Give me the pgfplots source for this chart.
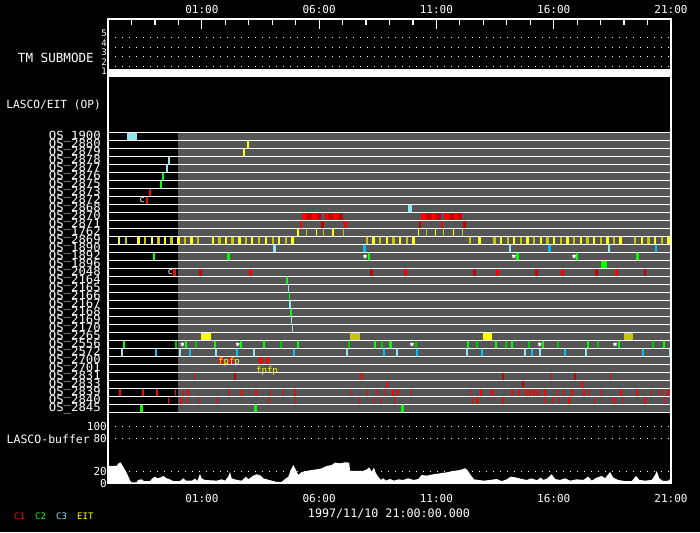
\documentclass[border=0pt]{standalone}
\usepackage{fontspec}
\setmainfont{DejaVu Sans Mono}
\usepackage{graphicx}
\usepackage{pgfplots}
\usepackage{pgfplotstable}
\pgfplotsset{compat=1.18}

\definecolor{bgrey}{RGB}{85,85,85}
\definecolor{cred}{RGB}{255,0,0}
\definecolor{cdred}{RGB}{200,0,0}
\definecolor{cgreen}{RGB}{0,255,0}
\definecolor{cdgreen}{RGB}{0,200,0}
\definecolor{clblue}{RGB}{142,229,238}
\definecolor{ccyan}{RGB}{0,191,255}
\definecolor{cyel}{RGB}{255,255,0}
\definecolor{colive}{RGB}{200,200,0}

\newcommand\fOS{\fontsize{11.2}{11.2}\selectfont}
\newcommand\fTick{\fontsize{11}{11}\selectfont}
\newcommand\fSmall{\fontsize{9}{9}\selectfont}
\newcommand\os[1]{\scalebox{1.1}[1]{OS\_#1}}

\pgfplotsset{
  seg/.style={color=#1, line width=7pt, line cap=butt, mark=none, forget plot},
  tick/.style={color=#1, only marks, mark=|, mark size=3.5pt,
    mark options={line width=1.1pt}, forget plot},
}

% one bar per table row: start hour a, end hour b, row r (hours from 21:00 on 11/09)
\newcommand\drawbars[2]{%
  \pgfplotstablegetrowsof{#1}%
  \pgfmathtruncatemacro\nlast{\pgfplotsretval-1}%
  \pgfplotsforeachungrouped \i in {0,...,\nlast}{%
    \pgfplotstablegetelem{\i}{a}\of{#1}\let\ba\pgfplotsretval
    \pgfplotstablegetelem{\i}{b}\of{#1}\let\bb\pgfplotsretval
    \pgfplotstablegetelem{\i}{r}\of{#1}\let\br\pgfplotsretval
    \edef\next{\noexpand\addplot[seg=#2] coordinates {(\ba,\br) (\bb,\br)};}%
    \next
  }%
}

\pgfplotstableread{
a b r
1.75 1.83 8
1.62 1.71 9
8.26 8.47 11
8.68 8.90 11
9.25 9.39 11
9.60 9.82 11
13.34 13.54 11
13.80 13.98 11
14.32 14.55 11
14.75 14.93 11
8.18 8.27 12
10.06 10.19 12
14.20 14.28 12
2.77 2.89 18
6.02 6.13 18
12.62 12.73 18
16.54 16.66 18
19.32 19.43 18
21.63 21.73 18
4.73 4.90 29
5.16 5.33 29
6.44 6.61 29
6.74 6.86 29
3.66 3.71 31
10.79 10.87 31
18.87 18.92 31
21.38 21.43 31
11.85 11.94 32
20.16 20.25 32
}\tRed

\pgfplotstableread{
a b r
8.47 8.68 11
8.90 9.08 11
9.39 9.60 11
9.82 10.03 11
13.54 13.80 11
13.98 14.18 11
14.55 14.75 11
14.93 15.09 11
9.08 9.20 12
13.26 13.34 12
15.13 15.25 12
3.88 3.99 18
11.17 11.28 18
15.57 15.67 18
18.22 18.32 18
20.76 20.88 18
22.85 22.94 18
5.37 5.46 31
16.80 16.88 31
19.87 19.95 31
17.65 17.73 32
}\tDred

\pgfplotstableread{
t r
0.51 33
1.49 33
2.09 33
2.86 33
3.20 33
3.41 33
5.12 33
5.71 33
6.31 33
6.91 33
7.50 33
7.97 33
10.32 33
11.08 33
11.47 33
11.77 33
12.15 33
12.36 33
12.92 33
15.47 33
15.90 33
16.37 33
17.22 33
17.52 33
17.82 33
17.99 33
18.16 33
18.33 33
18.63 33
19.10 33
19.40 33
19.78 33
20.29 33
20.50 33
21.02 33
21.87 33
22.55 33
23.15 33
23.45 33
23.62 33
23.87 33
2.56 34
3.11 34
3.37 34
3.84 34
4.65 34
6.86 34
8.01 34
10.74 34
11.30 34
11.60 34
12.23 34
15.52 34
15.73 34
16.84 34
18.59 34
18.93 34
19.23 34
19.65 34
20.72 34
21.57 34
21.95 34
22.89 34
23.75 34
}\tThinRed

\pgfplotstableread{
t r
7.63 19
7.73 21
7.80 23
}\tThinGreen

\pgfplotstableread{
t r
7.69 20
7.76 22
7.81 24
7.85 25
}\tThinBlue

\pgfplotstableread{
t r
8.10 13
8.88 13
9.59 13
13.23 13
13.95 13
14.72 13
}\tThinYellow

\pgfplotstableread{
t r
8.45 13
9.18 13
10.03 13
13.56 13
14.29 13
15.10 13
}\tThinOlive

\pgfplotstableread{
a b r
2.30 2.39 6
2.22 2.30 7
1.92 2.00 16
5.07 5.19 16
11.07 11.16 16
17.38 17.52 16
19.95 20.04 16
22.50 22.64 16
21.02 21.27 17
0.64 0.72 27
3.28 3.37 27
4.52 4.60 27
5.63 5.71 27
6.61 6.69 27
8.06 8.15 27
11.34 11.42 27
11.98 12.11 27
15.30 15.39 27
16.50 16.58 27
17.18 17.26 27
18.50 18.59 27
20.42 20.50 27
21.74 21.83 27
23.66 23.74 27
1.36 1.49 35
6.22 6.35 35
12.49 12.62 35
}\tGreen

\pgfplotstableread{
a b r
2.86 2.94 27
3.71 3.79 27
7.33 7.42 27
10.23 10.32 27
11.64 11.72 27
13.09 13.17 27
15.69 15.77 27
16.92 17.01 27
17.90 17.99 27
19.14 19.23 27
20.85 20.93 27
23.19 23.27 27
}\tDgreen

\pgfplotstableread{
a b r
0.81 1.22 1
2.56 2.64 4
2.47 2.56 5
12.79 12.96 10
7.03 7.15 15
17.09 17.18 15
21.31 21.40 15
0.55 0.64 28
3.03 3.11 28
4.56 4.65 28
6.18 6.27 28
10.15 10.23 28
12.28 12.36 28
15.26 15.35 28
17.73 17.82 28
18.37 18.46 28
20.33 20.42 28
23.92 24.00 28
}\tLblue

\pgfplotstableread{
a b r
10.87 10.99 15
18.76 18.87 15
23.32 23.40 15
2.00 2.09 28
3.45 3.54 28
5.46 5.54 28
7.89 7.97 28
11.72 11.81 28
13.13 13.22 28
15.90 15.99 28
18.03 18.12 28
19.44 19.52 28
22.76 22.85 28
}\tCyan

\pgfplotstableread{
a b r
5.91 6.00 2
5.76 5.84 3
0.43 0.51 14
1.24 1.36 14
1.83 1.92 14
2.39 2.47 14
2.94 3.07 14
3.50 3.62 14
4.43 4.52 14
4.99 5.07 14
5.54 5.67 14
6.10 6.19 14
6.69 6.77 14
7.26 7.33 14
7.80 7.92 14
11.25 11.37 14
11.85 11.92 14
12.42 12.49 14
12.96 13.07 14
15.79 15.90 14
16.71 16.78 14
17.28 17.35 14
17.83 17.93 14
18.42 18.49 14
18.98 19.06 14
19.54 19.64 14
20.12 20.19 14
20.69 20.76 14
21.23 21.34 14
21.80 21.90 14
22.72 22.79 14
23.29 23.36 14
23.84 23.95 14
3.96 4.39 26
15.99 16.37 26
}\tYellow

\pgfplotstableread{
a b r
0.72 0.81 14
1.53 1.62 14
2.09 2.22 14
2.64 2.77 14
3.24 3.33 14
3.79 3.88 14
4.69 4.82 14
5.24 5.37 14
5.84 5.93 14
6.41 6.48 14
6.98 7.08 14
7.55 7.62 14
11.00 11.07 14
11.57 11.64 14
12.12 12.22 14
12.70 12.78 14
15.39 15.46 14
16.43 16.53 14
17.00 17.09 14
17.56 17.64 14
18.13 18.20 14
18.68 18.79 14
19.27 19.34 14
19.84 19.91 14
20.38 20.49 14
20.97 21.04 14
21.54 21.61 14
22.42 22.50 14
22.99 23.09 14
23.56 23.65 14
10.32 10.74 26
22.00 22.38 26
}\tOlive

\pgfplotstableread{
t r
3.17 27
5.53 27
12.96 27
18.40 27
21.61 27
10.96 16
17.30 16
19.87 16
}\tStars

\pgfplotstableread{
t v
0.00 30.6
0.37 30.6
0.44 35
0.54 37
0.65 29
0.77 20.6
0.87 11.8
0.94 4.7
1.01 1.8
1.22 1.8
1.29 5.9
1.44 7
1.53 4
1.79 4
1.90 8.8
2.00 11.8
2.10 8.8
2.22 10
2.36 13
2.50 8.8
2.64 7
2.78 4
3.07 4
3.21 8.8
3.32 4.7
3.57 4.7
3.71 8.2
3.81 4
3.92 16.5
3.99 8.8
4.13 5.9
4.63 4.7
4.85 7
4.99 4.7
5.13 11.8
5.20 20
5.27 8.8
5.49 5.9
5.70 4.7
5.88 11.8
5.98 7
6.17 13
6.34 16
6.51 13.5
6.62 8.8
6.77 7
6.98 4.7
7.19 2.4
7.40 2.4
7.55 7.6
7.69 11.8
7.79 23.5
7.90 32.4
8.01 23.5
8.11 14.7
8.26 20
8.47 21.8
8.68 23.5
8.90 24.7
9.11 26.5
9.32 30.6
9.54 32.4
9.68 36.5
9.89 35.3
10.10 37
10.28 36.5
10.32 21.8
10.88 21.8
11.03 24.7
11.14 28
11.24 20.6
11.34 27.6
11.42 17.6
11.52 11.8
11.63 5.9
11.74 8.8
11.85 4.7
12.02 7.6
12.19 4.7
12.38 7
12.59 5.9
12.80 8.8
13.02 5.9
13.23 7.6
13.37 14.7
13.59 13.5
13.87 15.9
14.15 17.6
14.44 19.4
14.72 21.8
15.01 23.5
15.22 26.5
15.32 23.5
15.46 14.7
15.60 7
15.79 5.9
16.00 4.7
16.29 5.9
16.57 7.6
16.78 4
17.00 7
17.17 11.8
17.42 10
17.64 7.6
17.85 5.9
18.06 8.8
18.28 5.3
18.45 10
18.56 5.9
18.73 8.8
18.91 15.9
19.06 7.6
19.27 5.9
19.48 8.8
19.70 4.7
19.98 7
20.26 5.9
20.47 11.8
20.62 4.7
20.83 10
21.05 13
21.19 8.8
21.40 20
21.54 10
21.75 5.9
22.04 4
22.33 4
22.51 13
22.65 5.9
22.89 4.7
23.18 5.9
23.32 14.7
23.39 21.8
23.50 8.8
23.67 4
23.89 4.7
24.00 8.8
}\tBuffer

\begin{document}
\begin{tikzpicture}
\fill[black] (0pt,0pt) rectangle (700pt,532pt);

% TM submode panel
\begin{axis}[
  at={(108pt,451.2pt)}, anchor=south west, scale only axis,
  width=563pt, height=62.07pt,
  xmin=0, xmax=24, ymin=0.5, ymax=7,
  axis line style={draw=none}, xtick=\empty,
  ytick={1,2,3,4,5}, major tick length=0pt,
  ymajorgrids, grid style={white, line width=1pt, dash pattern=on 1pt off 6pt},
  /pgf/number format/assume math mode=true,
  yticklabel style={text=white, font=\fSmall, inner sep=1pt, yshift=4.5pt},
]
\addplot[fill=white, draw=none] coordinates {(0,0.93) (24,0.93) (24,1.77) (0,1.77)};
\end{axis}

% observation rows (row k centred at y=k)
\begin{axis}[
  at={(108pt,119.7pt)}, anchor=south west, scale only axis,
  width=563pt, height=280pt,
  xmin=0, xmax=24, ymin=0.5, ymax=35.5, y dir=reverse,
  axis line style={draw=none}, xtick=\empty, axis on top,
  major tick length=0pt, minor tick length=0pt,
  ytick={1,...,35},
  yticklabels={\os{1900},\os{2880},\os{2879},\os{2878},\os{2877},\os{2876},\os{2875},\os{2873},
    \os{2872},\os{2868},\os{2870},\os{2871},\os{1762},\os{2869},\os{1890},\os{1892},\os{1896},
    \os{2048},\os{2164},\os{2165},\os{2166},\os{2167},\os{2168},\os{2169},\os{2170},\os{2265},
    \os{2556},\os{2572},\os{2700},\os{2701},\os{2831},\os{2833},\os{2839},\os{2840},\os{2845}},
  minor ytick={0.5,1.5,2.5,3.5,4.5,5.5,6.5,7.5,8.5,9.5,10.5,11.5,12.5,13.5,14.5,15.5,16.5,17.5,
    18.5,19.5,20.5,21.5,22.5,23.5,24.5,25.5,26.5,27.5,28.5,29.5,30.5,31.5,32.5,33.5,34.5,35.5},
  yminorgrids,
  minor grid style={white, line width=1pt},
  yticklabel style={text=white, font=\fOS, anchor=east, inner sep=0pt, xshift=-7pt},
]
\addplot[fill=bgrey, draw=none] coordinates {(3,0.5) (24,0.5) (24,35.5) (3,35.5)};
\drawbars{\tRed}{cred}
\drawbars{\tDred}{cdred}
\drawbars{\tGreen}{cgreen}
\drawbars{\tDgreen}{cdgreen}
\drawbars{\tLblue}{clblue}
\drawbars{\tCyan}{ccyan}
\drawbars{\tYellow}{cyel}
\drawbars{\tOlive}{colive}
\addplot[tick=cred] table[x=t, y=r] {\tThinRed};
\addplot[tick=cgreen] table[x=t, y=r] {\tThinGreen};
\addplot[tick=clblue] table[x=t, y=r] {\tThinBlue};
\addplot[tick=cyel] table[x=t, y=r] {\tThinYellow};
\addplot[tick=colive] table[x=t, y=r] {\tThinOlive};
\addplot[only marks, mark=asterisk, mark size=2pt, white, line width=0.8pt]
  table[x=t, y=r] {\tStars};
\node[text=white, font=\fSmall, inner sep=0pt] at (axis cs:1.45,9) {c};
\node[text=white, font=\fSmall, inner sep=0pt] at (axis cs:2.66,18) {c};
\node[text=cyel, font=\fSmall, inner sep=0pt] at (axis cs:5.16,29.2) {fpfp};
\node[text=cyel, font=\fSmall, inner sep=0pt] at (axis cs:6.78,30.3) {fpfp};
\end{axis}

% LASCO buffer
\begin{axis}[
  at={(108pt,48.7pt)}, anchor=south west, scale only axis,
  width=563pt, height=56.6pt,
  xmin=0, xmax=24, ymin=0, ymax=100,
  axis line style={draw=none}, major tick length=0pt,
  ytick={0,20,80,100},
  ymajorgrids, grid style={white, line width=1pt, dash pattern=on 1pt off 6pt},
  xtick={4,9,14,19,24}, xticklabels={01:00,06:00,11:00,16:00,21:00},
  /pgf/number format/assume math mode=true,
  yticklabel style={text=white, font=\fTick, inner sep=1pt},
  xticklabel style={text=white, font=\fTick, anchor=center, yshift=-14.7pt},
]
\addplot[fill=white, draw=none] table[x=t, y=v] {\tBuffer} \closedcycle;
\end{axis}

% frame with hour ticks
\begin{axis}[
  at={(108pt,48.7pt)}, anchor=south west, scale only axis,
  width=563pt, height=464.3pt,
  xmin=0, xmax=24, ymin=0, ymax=1,
  axis line style={white, line width=1.2pt}, ytick=\empty,
  xtick={4,9,14,19,24}, xticklabels={01:00,06:00,11:00,16:00,21:00},
  minor xtick={1,2,3,5,6,7,8,10,11,12,13,15,16,17,18,20,21,22,23},
  xtick pos=right, xticklabel pos=right, tick align=inside,
  major tick length=10pt, minor tick length=6pt,
  every tick/.style={white, line width=1.2pt},
  xticklabel style={text=white, font=\fTick, anchor=center, yshift=9pt},
]
\end{axis}

\node[anchor=east, text=white, font=\fontsize{12.6}{12.6}\selectfont, inner sep=0pt] at (94pt,474pt) {TM SUBMODE};
\node[anchor=east, text=white, font=\fontsize{11.2}{11.2}\selectfont, inner sep=0pt] at (101pt,427pt) {LASCO/EIT (OP)};
\node[anchor=east, text=white, font=\fontsize{11.5}{11.5}\selectfont, inner sep=0pt] at (90pt,93pt) {LASCO-buffer};
\node[text=white, font=\fontsize{11.7}{11.7}\selectfont, inner sep=0pt] at (389pt,18.5pt) {1997/11/10 21:00:00.000};
\node[anchor=west, text=cred, font=\fSmall, inner sep=0pt] at (14pt,15.5pt) {C1};
\node[anchor=west, text=cgreen, font=\fSmall, inner sep=0pt] at (35pt,15.5pt) {C2};
\node[anchor=west, text=clblue, font=\fSmall, inner sep=0pt] at (56pt,15.5pt) {C3};
\node[anchor=west, text=cyel, font=\fSmall, inner sep=0pt] at (77pt,15.5pt) {EIT};

\pgfresetboundingbox
\useasboundingbox (0pt,0pt) rectangle (700pt,532pt);
\end{tikzpicture}
\end{document}
